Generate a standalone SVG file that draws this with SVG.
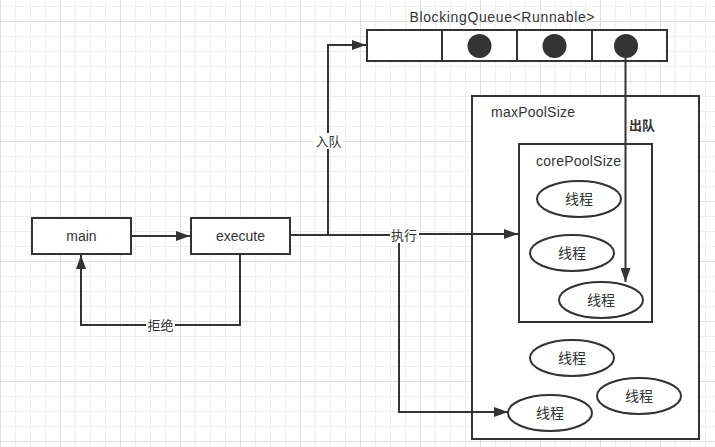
<svg xmlns="http://www.w3.org/2000/svg" width="715" height="447" viewBox="0 0 715 447">
<defs>
<pattern id="gmin" patternUnits="userSpaceOnUse" x="0" y="6" width="15" height="15"><path d="M0 0.5H15M0.5 0V15" stroke="#eeeeee" stroke-width="1" fill="none"/></pattern>
<pattern id="gmaj" patternUnits="userSpaceOnUse" x="0" y="21" width="60" height="60"><path d="M0 0.5H60M0.5 0V60" stroke="#e0e0e0" stroke-width="1" fill="none"/></pattern>
<marker id="arr" markerUnits="userSpaceOnUse" markerWidth="14" markerHeight="10" refX="14" refY="5" orient="auto"><path d="M0,0 L14,5 L0,10 z" fill="#333"/></marker>
<style>
.box{fill:#fff;stroke:#333;stroke-width:2}
.frame{fill:none;stroke:#333;stroke-width:2}
.ell{fill:#fff;stroke:#333;stroke-width:2}
.dot{fill:#333}
.t{font-family:"Liberation Sans","Noto Sans CJK SC",sans-serif;font-size:14px;fill:#333}
.c{font-family:"Liberation Sans","Noto Sans CJK SC",sans-serif;font-size:13px;fill:#333;text-anchor:middle}
.th{font-size:14px}
.m{text-anchor:middle}
.e{fill:none;stroke:#333;stroke-width:2}
.lb{fill:#fff}
</style>
</defs>
<rect width="715" height="447" fill="#fff"/>
<rect width="715" height="447" fill="url(#gmin)"/>
<rect width="715" height="447" fill="url(#gmaj)"/>

<g id="maxPool">
<rect class="box" x="472" y="96" width="227" height="343"/>
<text class="t" x="491" y="117" textLength="84">maxPoolSize</text>
</g>
<g id="corePool">
<rect class="box" x="519" y="144" width="133" height="178"/>
<text class="t" x="536" y="166" textLength="85">corePoolSize</text>
</g>

<g id="queue">
<text class="t m" x="502" y="22" textLength="185">BlockingQueue&lt;Runnable&gt;</text>
<rect class="box" x="367" y="30" width="300" height="31"/>
<path class="frame" d="M442 30V61M517 30V61M592 30V61"/>
<circle class="dot" cx="479.5" cy="46" r="12"/>
<circle class="dot" cx="554.5" cy="46" r="12"/>
<circle class="dot" cx="626" cy="46" r="12"/>
</g>

<g id="main">
<rect class="box" x="32" y="218" width="99" height="36"/>
<text class="t m" x="81.5" y="241">main</text>
</g>
<g id="execute">
<rect class="box" x="191" y="218" width="99" height="36"/>
<text class="t m" x="240.5" y="241">execute</text>
</g>

<g id="threads">
<g id="t1"><ellipse class="ell" cx="579" cy="199" rx="42" ry="18"/><text class="c th" x="579" y="204">线程</text></g>
<g id="t2"><ellipse class="ell" cx="572" cy="253" rx="42" ry="18"/><text class="c th" x="572" y="258">线程</text></g>
<g id="t3"><ellipse class="ell" cx="601" cy="300" rx="42" ry="18"/><text class="c th" x="601" y="305">线程</text></g>
<g id="t4"><ellipse class="ell" cx="572" cy="358" rx="42" ry="18"/><text class="c th" x="572" y="363">线程</text></g>
<g id="t5"><ellipse class="ell" cx="639" cy="396" rx="42" ry="18"/><text class="c th" x="639" y="401">线程</text></g>
<g id="t6"><ellipse class="ell" cx="550" cy="413" rx="42" ry="18"/><text class="c th" x="550" y="418">线程</text></g>
</g>

<g id="connectors">
<path class="e" d="M131 236H190" marker-end="url(#arr)"/>
<path class="e" d="M240 254V325H81V255" marker-end="url(#arr)"/>
<rect class="lb" x="146" y="317" width="29" height="16"/>
<text class="c" x="160.5" y="330">拒绝</text>
<path class="e" d="M290 235H328V45H366" marker-end="url(#arr)"/>
<rect class="lb" x="314" y="133" width="29" height="16"/>
<text class="c" x="328.5" y="146">入队</text>
<path class="e" d="M328 235H404V234H518" marker-end="url(#arr)"/>
<path class="e" d="M399 235V412H508" marker-end="url(#arr)"/>
<rect class="lb" x="390" y="227" width="29" height="16"/>
<text class="c" x="404" y="240">执行</text>
<path class="e" d="M625.5 58V282" marker-end="url(#arr)"/>
<text class="c" x="642" y="130" font-weight="bold">出队</text>
</g>
</svg>
